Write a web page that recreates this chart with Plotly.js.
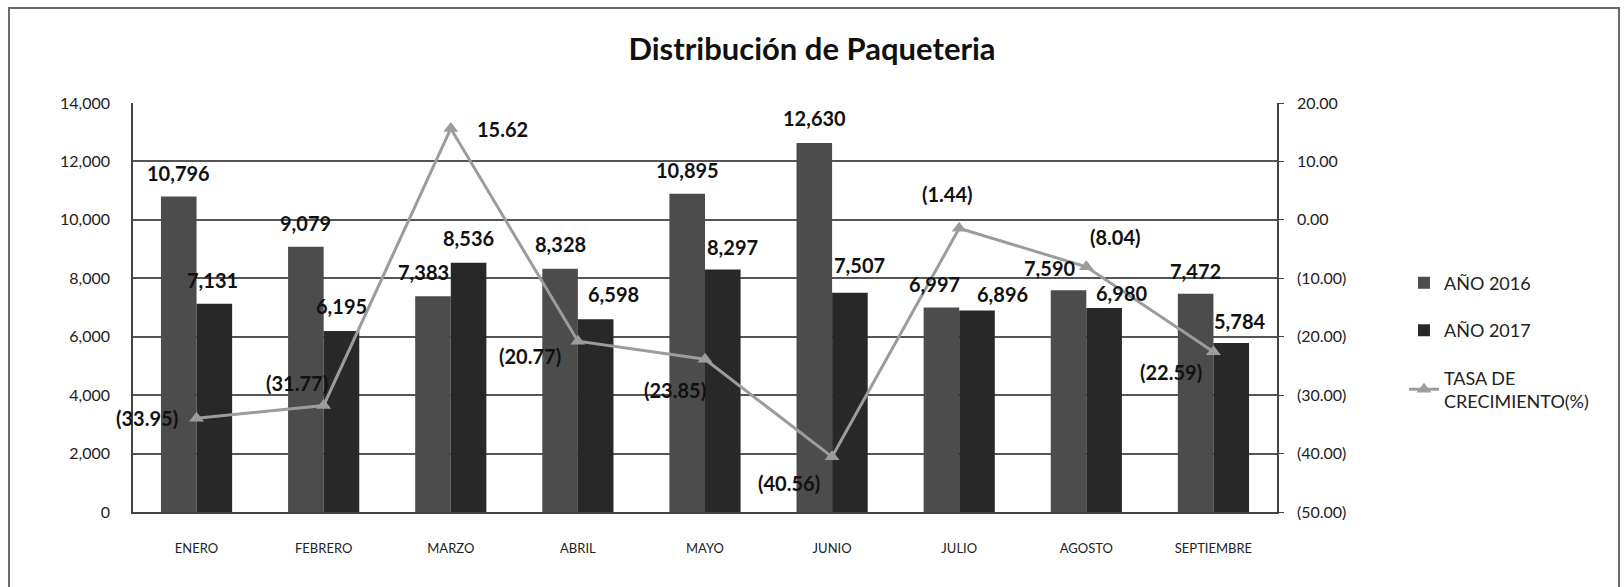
<!DOCTYPE html>
<html>
<head>
<meta charset="utf-8">
<script src="https://cdn.plot.ly/plotly-3.0.1.min.js"></script>
<style>
  body { margin: 0; background: #fff; }
  #frame { position: absolute; left: 8px; top: 7px; width: 1608px; height: 600px;
           border: 2px solid #6a6a6a; pointer-events: none; }
</style>
</head>
<body>
<div id="myDiv" style="width:1624px;height:587px;"></div>
<div id="frame"></div>
<script>
var meses = ['ENERO', 'FEBRERO', 'MARZO', 'ABRIL', 'MAYO', 'JUNIO', 'JULIO', 'AGOSTO', 'SEPTIEMBRE'];
var anio2016 = [10796, 9079, 7383, 8328, 10895, 12630, 6997, 7590, 7472];
var anio2017 = [7131, 6195, 8536, 6598, 8297, 7507, 6896, 6980, 5784];
var tasa = [-33.95, -31.77, 15.62, -20.77, -23.85, -40.56, -1.44, -8.04, -22.59];
var y2Ticks = [20, 10, 0, -10, -20, -30, -40, -50];

// label nudges in px (like Excel's label placement)
var dx16 = [0, 0, -9, 0, 0, 0, -7, -19, 0];
var dy16 = [24, 24, 24, 25, 24, 25, 24, 22, 23];
var dx17 = [-2, 0, 0, 18, 10, 10, 25, 17, 8];
var dy17 = [24, 25, 25, 25, 23, 28, 17, 15, 22];
var dxT = [-50, -27, 52, -48, -30, -43, -12, 29, -42];
var dyT = [0, 22, 0, -15, -31, -26, 34, 30, -20];

function paren(v) {
    return v < 0 ? '(' + Math.abs(v).toFixed(2) + ')' : v.toFixed(2);
}

var fnt = 'Lato, "Open Sans", sans-serif';
var lblFont = {family: fnt, size: 20, color: '#111', weight: 'bold'};
var bargap = 0.44;
var half = (1 - bargap) / 4;

var data = [{
    x: meses,
    y: anio2016,
    type: 'bar',
    name: 'AÑO 2016',
    legendgroup: 'a',
    marker: {color: '#4c4c4c'},
    hoverinfo: 'x+y'
}, {
    x: meses,
    y: anio2017,
    type: 'bar',
    name: 'AÑO 2017',
    legendgroup: 'b',
    marker: {color: '#282828'},
    hoverinfo: 'x+y'
}, {
    x: meses,
    y: tasa,
    yaxis: 'y2',
    type: 'scatter',
    mode: 'lines+markers',
    name: 'TASA DE<br>CRECIMIENTO(%)',
    legendgroup: 'c',
    line: {color: '#9c9c9c', width: 3},
    marker: {symbol: 'triangle-up', size: 13, color: '#9c9c9c'},
    cliponaxis: false
}];

var annotations = [];
meses.forEach(function (m, i) {
    annotations.push({
        x: i - half, y: anio2016[i], xref: 'x', yref: 'y',
        text: anio2016[i].toLocaleString('en-US'), showarrow: false,
        xanchor: 'center', yanchor: 'middle',
        xshift: dx16[i], yshift: dy16[i], font: lblFont
    });
    annotations.push({
        x: i + half, y: anio2017[i], xref: 'x', yref: 'y',
        text: anio2017[i].toLocaleString('en-US'), showarrow: false,
        xanchor: 'center', yanchor: 'middle',
        xshift: dx17[i], yshift: dy17[i], font: lblFont
    });
    annotations.push({
        x: i, y: tasa[i], xref: 'x', yref: 'y2',
        text: paren(tasa[i]), showarrow: false,
        xanchor: 'center', yanchor: 'middle',
        xshift: dxT[i], yshift: dyT[i], font: lblFont
    });
});

var layout = {
    title: {
        text: '<b>Distribución de Paqueteria</b>',
        font: {family: fnt, size: 31, color: '#111'},
        x: 0.5, xref: 'container', y: 0.935, yref: 'container'
    },
    font: {family: fnt, color: '#222'},
    margin: {l: 133, r: 347, t: 103, b: 75},
    paper_bgcolor: '#fff',
    plot_bgcolor: '#fff',
    barmode: 'group',
    bargap: bargap,
    bargroupgap: 0,
    showlegend: true,
    legend: {
        x: 1.111, xanchor: 'left', y: 0.605, yanchor: 'top',
        font: {family: fnt, size: 18, color: '#222'},
        traceorder: 'grouped',
        tracegroupgap: 21,
        bgcolor: 'rgba(0,0,0,0)'
    },
    annotations: annotations,
    xaxis: {
        type: 'category',
        range: [-0.5, meses.length - 0.5],
        tickfont: {family: fnt, size: 13, color: '#222'},
        ticklabelstandoff: 24,
        showline: true, linecolor: '#444', linewidth: 1.5,
        showgrid: false
    },
    yaxis: {
        range: [0, 14000],
        dtick: 2000,
        tickformat: ',d',
        tickfont: {family: fnt, size: 16, color: '#222'},
        ticklabelstandoff: 18,
        showgrid: true, gridcolor: '#555', gridwidth: 1.5,
        showline: true, linecolor: '#444', linewidth: 1.5,
        ticks: '',
        zeroline: false
    },
    yaxis2: {
        overlaying: 'y',
        side: 'right',
        range: [-50, 20],
        tickvals: y2Ticks,
        ticktext: y2Ticks.map(paren),
        tickfont: {family: fnt, size: 16, color: '#222'},
        ticklabelstandoff: 10,
        showgrid: false,
        showline: true, linecolor: '#444', linewidth: 1.5,
        ticks: 'outside', ticklen: 5, tickcolor: '#444',
        zeroline: false
    }
};

Plotly.newPlot('myDiv', data, layout, {displayModeBar: false});
</script>
</body>
</html>
